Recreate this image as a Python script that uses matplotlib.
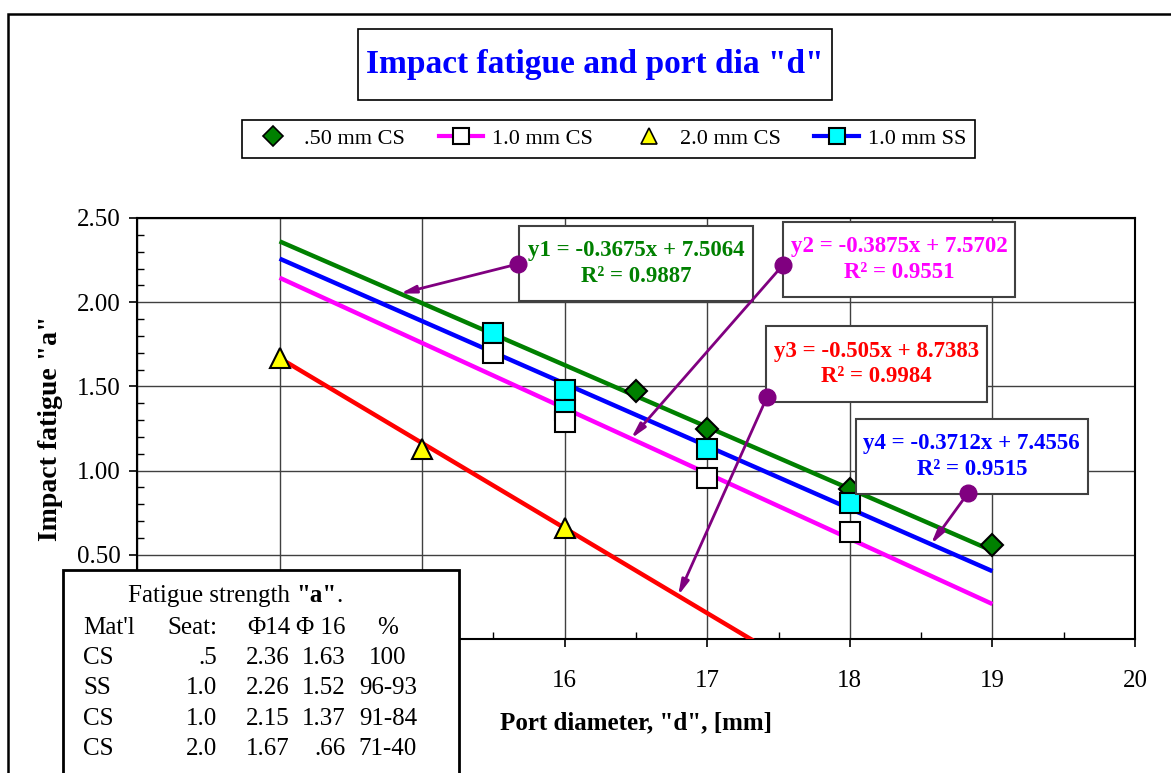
import numpy as np
import matplotlib.pyplot as plt
from matplotlib.lines import Line2D
from matplotlib.patches import Rectangle
from matplotlib.ticker import MultipleLocator

plt.rcParams['font.family'] = ['Liberation Serif', 'DejaVu Serif']

# measured impact fatigue vs port diameter
x_cs05 = [16.5, 17, 18, 19]
a_cs05 = [1.47, 1.25, 0.89, 0.56]
x_cs10 = [15.5, 16, 17, 18]
a_cs10 = [1.70, 1.29, 0.955, 0.635]
x_cs20 = [14, 15, 16]
a_cs20 = [1.67, 1.13, 0.66]
x_ss10 = [15.5, 16, 16, 17, 18]
a_ss10 = [1.82, 1.48, 1.36, 1.13, 0.81]

# linear trendlines y = k*x + b
fit_k = [-0.3675, -0.3875, -0.505, -0.3712]
fit_b = [7.5064, 7.5702, 8.7383, 7.4556]
fit_r2 = [0.9887, 0.9551, 0.9984, 0.9515]
fit_col = ['#008000', '#FF00FF', '#FF0000', '#0000FF']

# callout boxes (x0, y0, x1, y1), dot position, arrow tip x
box_xy = [(15.68, 2.007, 17.32, 2.452), (17.53, 2.031, 19.16, 2.476),
          (17.41, 1.407, 18.96, 1.859), (18.04, 0.861, 19.67, 1.306)]
dot_xy = [(15.672, 2.227), (17.531, 2.221), (17.419, 1.437), (18.829, 0.867)]
tip_x = [14.845, 16.465, 16.795, 18.569]

# axis ticks (labels under the table box are left blank)
x_ticks = [13, 14, 15, 16, 17, 18, 19, 20]
x_tick_labels = ['', '', '', '16', '17', '18', '19', '20']
y_ticks = [0.0, 0.5, 1.0, 1.5, 2.0, 2.5]
y_tick_labels = ['', '0.50', '1.00', '1.50', '2.00', '2.50']

# summary table
tab_rows = [["Mat'l", "Seat:", "Φ14", "Φ 16", "%"],
            ["CS", ".5", "2.36", "1.63", "100"],
            ["SS", "1.0", "2.26", "1.52", "96-93"],
            ["CS", "1.0", "2.15", "1.37", "91-84"],
            ["CS", "2.0", "1.67", ".66", "71-40"]]

W, H = 1171, 773
fig = plt.figure(figsize=(W/100, H/100), dpi=100)
ax = fig.add_axes([137/W, 1-639/H, 998/W, 421/H])

xs = np.array([14, 19])
for k, b, c in zip(fit_k, fit_b, fit_col):
    ax.plot(xs, k*xs + b, color=c, lw=3.2, zorder=3, solid_capstyle='butt')

ax.plot(x_cs05, a_cs05, 'D', ms=11.5, mfc='#008000', mec='black', mew=1.5, zorder=5)
ax.plot(x_cs20, a_cs20, '^', ms=14, mfc='#FFFF00', mec='black', mew=1.5, zorder=5)
ax.plot(x_ss10, a_ss10, 's', ms=14, mfc='#00FFFF', mec='black', mew=1.5, zorder=5)
ax.plot(x_cs10, a_cs10, 's', ms=14, mfc='white', mec='black', mew=1.5, zorder=6)

ax.set_xlim(13, 20)
ax.set_ylim(0, 2.5)
ax.set_xticks(x_ticks, x_tick_labels)
ax.set_yticks(y_ticks, y_tick_labels)
ax.xaxis.set_minor_locator(MultipleLocator(0.5))
ax.yaxis.set_minor_locator(MultipleLocator(0.1))
ax.grid(True, which='major', color='#404040', lw=1)
ax.tick_params(which='major', direction='out', length=6, width=1.2, labelsize=18)
ax.tick_params(which='minor', direction='in', length=5, width=1)
ax.tick_params(axis='x', pad=16)
ax.tick_params(axis='y', pad=6)
for s in ax.spines.values():
    s.set_linewidth(1.5)

ax.set_xlabel('Port diameter, "d", [mm]', fontsize=18, fontweight='bold', labelpad=14)
ax.set_ylabel('Impact fatigue "a"', fontsize=20, fontweight='bold', labelpad=10)

# trendline callouts
for i in range(4):
    x0, y0, x1, y1 = box_xy[i]
    ax.add_patch(Rectangle((x0, y0), x1-x0, y1-y0, facecolor='white',
                           edgecolor='#404040', lw=1.5, zorder=7))
    txt = "y%d = %gx + %g\nR² = %g" % (i+1, fit_k[i], fit_b[i], fit_r2[i])
    ax.text((x0+x1)/2, (y0+y1)/2, txt, ha='center', va='center', fontsize=16.5,
            fontweight='bold', color=fit_col[i], linespacing=1.3, zorder=8)
    tx = tip_x[i]
    ty = fit_k[i]*tx + fit_b[i]
    ax.annotate('', xy=(tx, ty), xytext=dot_xy[i],
                arrowprops=dict(arrowstyle='-|>,head_length=0.9,head_width=0.22',
                                color='#800080', lw=2, shrinkA=0, shrinkB=0),
                zorder=9)
    ax.plot(*dot_xy[i], 'o', ms=12, color='#800080', zorder=9)

# outer frame
fig.add_artist(Rectangle((8/W, -0.1), 1.0, 1-14/H+0.1, transform=fig.transFigure,
                         fill=False, edgecolor='black', lw=1.8))

# title
fig.add_artist(Rectangle((358/W, 1-100/H), 474/W, 71/H, transform=fig.transFigure,
                         facecolor='white', edgecolor='black', lw=1.2))
fig.text(595/W, 1-65/H, 'Impact fatigue and port dia "d"', ha='center', va='center',
         fontsize=24, fontweight='bold', color='#0000FF')

# legend
handles = [Line2D([], [], ls='none', marker='D', ms=10, mfc='#008000', mec='black', mew=1.2),
           Line2D([], [], color='#FF00FF', lw=3, marker='s', ms=12, mfc='white', mec='black', mew=1.5),
           Line2D([], [], ls='none', marker='^', ms=12, mfc='#FFFF00', mec='black', mew=1.2),
           Line2D([], [], color='#0000FF', lw=3, marker='s', ms=12, mfc='#00FFFF', mec='black', mew=1.5)]
labels = ['.50 mm CS', '1.0 mm CS', '2.0 mm CS', '1.0 mm SS']
leg = fig.legend(handles, labels, loc='center', ncol=4, mode='expand',
                 bbox_to_anchor=(242/W, 1-165/H, 733/W, 52/H), borderaxespad=0,
                 fontsize=16, handlelength=2.0, handletextpad=0.4, columnspacing=0.5,
                 fancybox=False, framealpha=1, edgecolor='black')
leg.get_frame().set_linewidth(1.2)

# table of fatigue strength
fig.add_artist(Rectangle((63/W, -0.1), 396/W, 1-570/H+0.1, transform=fig.transFigure,
                         facecolor='white', edgecolor='black', lw=2))
t1 = fig.text(128/W, 1-596/H, 'Fatigue strength ', ha='left', va='center', fontsize=18)
t2 = fig.text(0, 0, '"a"', va='bottom', fontsize=18, fontweight='bold')
t3 = fig.text(0, 0, '.', va='bottom', fontsize=18)
fig.canvas.draw()
bb1 = t1.get_window_extent()
t2.set_position((bb1.x1/W, bb1.y0/H))
bb2 = t2.get_window_extent()
t3.set_position((bb2.x1/W, bb1.y0/H))

col_x = [83, 217, 290, 346, 388]
col_ha = ['left', 'right', 'right', 'right', 'center']
row_y = [628, 658, 688, 719, 749]
for r, row in enumerate(tab_rows):
    for c, cell in enumerate(row):
        fig.text(col_x[c]/W, 1-row_y[r]/H, cell, ha=col_ha[c], va='center', fontsize=18)

fig.savefig('out.png', dpi=100)
